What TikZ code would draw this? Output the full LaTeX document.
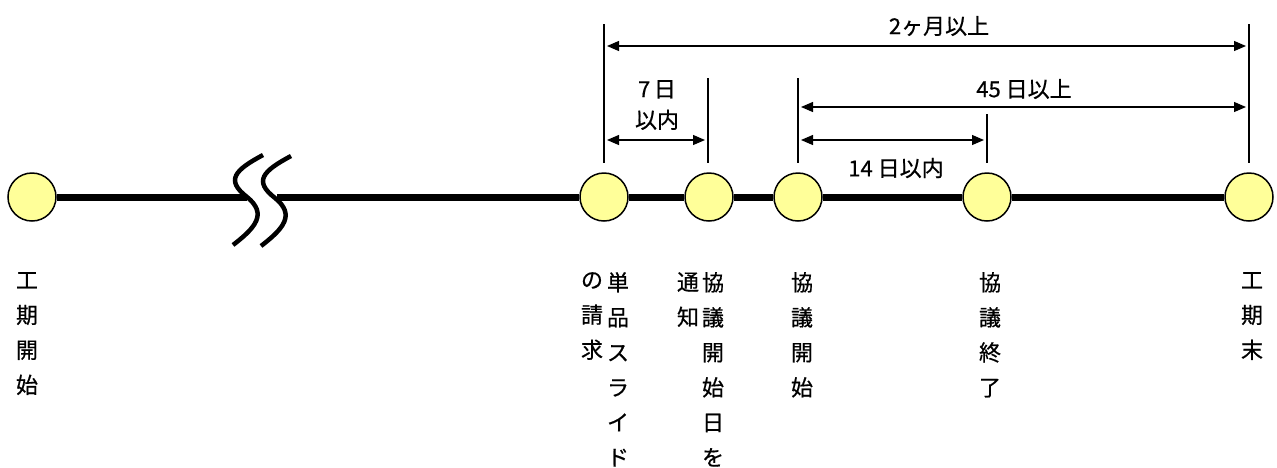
\documentclass[tikz,border=0pt]{standalone}
\usepackage{fontspec}
\newfontfamily\jp[FakeBold=0.6]{Noto Sans CJK JP}
\usetikzlibrary{arrows.meta}
\definecolor{dotyellow}{RGB}{255,255,153}
\begin{document}
\begin{tikzpicture}[x=1pt,y=-1pt,
  dot/.style={circle,draw=black,line width=1.5pt,fill=dotyellow,minimum size=48pt,inner sep=0pt},
  mainline/.style={line width=7pt},
  brk/.style={line width=4.5pt},
  tick/.style={line width=1.1pt},
  dim/.style={line width=1.2pt,shorten <=3pt,shorten >=3pt,{Triangle[length=12pt,width=10pt]}-{Triangle[length=12pt,width=10pt]}},
  lbl/.style={font=\jp\fontsize{22}{35}\selectfont,inner sep=0pt,align=center,anchor=north},
  txt/.style={font=\jp\fontsize{22}{31}\selectfont,inner sep=0pt,align=center}]
\useasboundingbox (0,0) rectangle (1277,467);
% circles
\node[dot] (c1) at (32,197) {};
\node[dot] (c2) at (604,197) {};
\node[dot] (c3) at (709,197) {};
\node[dot] (c4) at (798,197) {};
\node[dot] (c5) at (987,197) {};
\node[dot] (c6) at (1249,197) {};
% break coordinates
\coordinate (bl) at (247,197);
\coordinate (br) at (277,197);
% main line
\draw[mainline] (c1.east) -- (bl);
\draw[mainline] (br) -- (c2.west);
\draw[mainline] (c2.east) -- (c3.west);
\draw[mainline] (c3.east) -- (c4.west);
\draw[mainline] (c4.east) -- (c5.west);
\draw[mainline] (c5.east) -- (c6.west);
% break marks
\draw[brk] (263,155) .. controls (235,170) and (225,180) .. (247,197) .. controls (268,214) and (255,228) .. (233,245);
\draw[brk] (291,156) .. controls (263,171) and (253,181) .. (275,198) .. controls (296,215) and (283,229) .. (261,246);
% ticks
\coordinate (t2a) at (604,24);  \coordinate (t2b) at (604,163);
\coordinate (t3a) at (708,78);  \coordinate (t3b) at (708,163);
\coordinate (t4a) at (798,78);  \coordinate (t4b) at (798,163);
\coordinate (t5a) at (987,114); \coordinate (t5b) at (987,163);
\coordinate (t6a) at (1249,24); \coordinate (t6b) at (1249,163);
\draw[tick] (t2a) -- (t2b);
\draw[tick] (t3a) -- (t3b);
\draw[tick] (t4a) -- (t4b);
\draw[tick] (t5a) -- (t5b);
\draw[tick] (t6a) -- (t6b);
% dimension arrows
\coordinate (a1l) at (604,46);  \coordinate (a1r) at (1249,46);
\coordinate (a2l) at (604,140); \coordinate (a2r) at (708,140);
\coordinate (a3l) at (798,107); \coordinate (a3r) at (1249,107);
\coordinate (a4l) at (798,140); \coordinate (a4r) at (987,140);
\draw[dim] (a1l) -- (a1r);
\draw[dim] (a2l) -- (a2r);
\draw[dim] (a3l) -- (a3r);
\draw[dim] (a4l) -- (a4r);
% dimension texts
\node[txt] (d1) at (939,26) {2ヶ月以上};
\node[txt] (d2) at (657,105) {7\,日\\以内};
\node[txt] (d3) at (1024,89) {45 日以上};
\node[txt] (d4) at (896,168) {14 日以内};
% labels
\node[lbl] (l1) at (27,272) {工\\期\\開\\始};
\node[lbl] (l2a) at (592,272) {の\\請\\求};
\node[lbl] (l2b) at (618,272) {単\\品\\ス\\ラ\\イ\\ド};
\node[lbl] (l3a) at (688,272) {通\\知};
\node[lbl] (l3b) at (713,272) {協\\議\\開\\始\\日\\を};
\node[lbl] (l4) at (802,272) {協\\議\\開\\始};
\node[lbl] (l5) at (990,272) {協\\議\\終\\了};
\node[lbl] (l6) at (1252,272) {工\\期\\末};
\end{tikzpicture}
\end{document}
